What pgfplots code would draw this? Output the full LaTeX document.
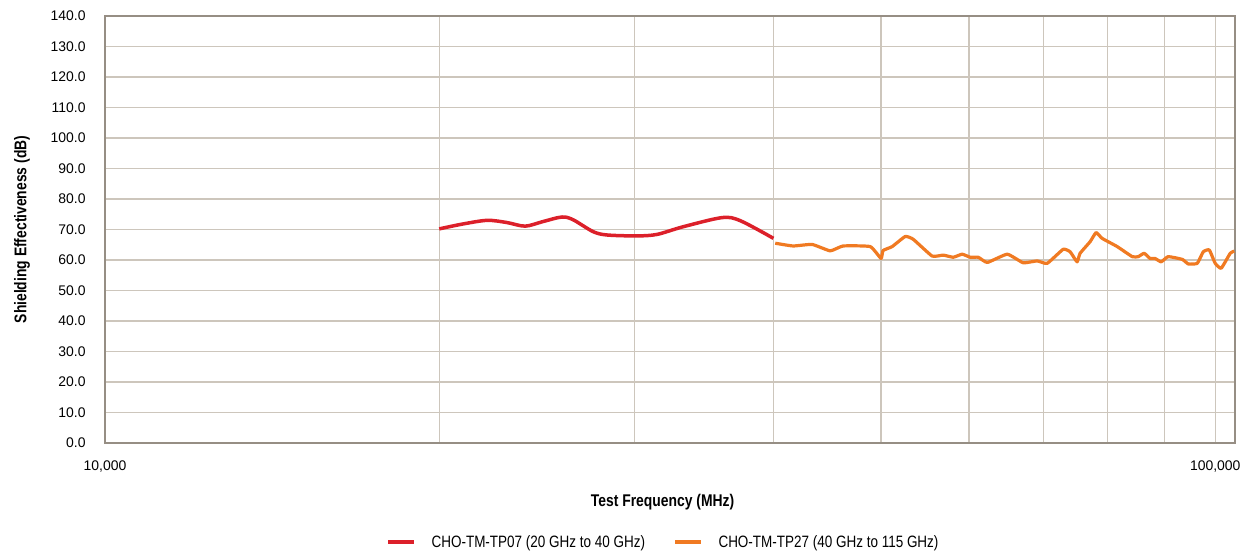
\documentclass[border=0pt]{standalone}
\usepackage{fontspec}
\setmainfont{Liberation Sans}
\newfontfamily\narrowfont[FakeStretch=0.82]{Liberation Sans}
\usepackage{pgfplots}
\pgfplotsset{compat=1.18}
\definecolor{redline}{RGB}{220,32,42}
\definecolor{orangeline}{RGB}{240,122,34}
\definecolor{gridc}{RGB}{205,198,188}
\definecolor{framec}{RGB}{150,142,132}
\begin{document}
\begin{tikzpicture}
\begin{axis}[
  scale only axis,
  width=1130bp, height=427bp,
  xmode=log,
  xmin=10000, xmax=104200,
  ymin=0, ymax=140,
  ytick={0,10,...,140},
  yticklabel={\pgfmathprintnumber[fixed,fixed zerofill,precision=1]{\tick}},
  /pgf/number format/assume math mode=true,
  xtick={10000,100000},
  xticklabels={10{,}000,100{,}000},
  minor xtick={20000,30000,40000,50000,60000,70000,80000,90000},
  xmajorgrids, xminorgrids, ymajorgrids,
  major grid style={gridc, line width=1.2bp},
  minor grid style={gridc, line width=1.2bp},
  axis line style={framec, line width=1.2bp},
  major tick length=0pt, minor tick length=0pt,
  tick label style={font=\fontsize{14}{16}\selectfont, text=black},
  yticklabel style={xshift=-16bp},
  xticklabel style={yshift=-14bp},
  xlabel={\narrowfont\bfseries Test Frequency (MHz)},
  ylabel={\narrowfont\bfseries Shielding Effectiveness (dB)},
  label style={font=\fontsize{17}{19}\selectfont},
  xlabel style={at={(axis description cs:0.4934,-0.138)}, anchor=center},
  ylabel style={at={(axis description cs:-0.0735,0.5)}, anchor=center},
  legend columns=2,
  legend style={at={(axis description cs:0.494,-0.232)}, anchor=center, draw=none,
    font=\narrowfont\fontsize{16.5}{18}\selectfont,
    /tikz/every odd column/.append style={column sep=13bp},
    /tikz/every even column/.append style={column sep=26bp}},
  legend image code/.code={\draw[#1, line width=4.5bp] (0bp,0bp) -- (26bp,0bp);},
]
\addplot[redline, line width=3.5bp, smooth, tension=0.5] coordinates {
(20000,70.2) (21000,71.8) (22090,73.0) (23000,72.3) (23900,71.1) (24800,72.6)
(25800,74.1) (26400,73.2) (27520,69.3) (28330,68.2) (30150,67.9) (31430,68.4)
(33170,70.9) (35960,73.9) (37340,72.9) (40000,67.1)
};
\addlegendentry{CHO-TM-TP07 (20 GHz to 40 GHz)}
\addplot[orangeline, line width=3.2bp, line join=round, smooth, tension=0.25] coordinates {
(40150,65.5) (41670,64.6) (43350,65.1) (45000,63.0) (46220,64.6) (48890,64.4)
(50000,60.5) (50210,63.1) (51170,64.4) (52570,67.7) (53450,66.8) (55590,61.3)
(56890,61.6) (58080,60.9) (59160,61.9) (60170,60.9) (61180,60.9) (62340,59.2)
(64960,61.9) (67140,59.1) (69130,59.7) (70580,58.9) (72950,63.5) (74020,62.7)
(75100,59.4) (75570,62.2) (77150,66.0) (78120,69.0) (79100,67.1) (81600,64.4)
(84190,61.1) (85240,61.1) (86300,62.2) (87360,60.5) (88270,60.5) (89400,59.4)
(90700,61.1) (93400,60.2) (94560,58.7) (96340,58.9) (97550,62.7) (98770,63.3)
(100000,58.9) (101250,57.3) (103160,62.2) (104020,62.9)
};
\addlegendentry{CHO-TM-TP27 (40 GHz to 115 GHz)}
\end{axis}
\pgfresetboundingbox
\path[use as bounding box] ([xshift=-105bp,yshift=-110bp]current axis.south west) rectangle ([xshift=11bp,yshift=16bp]current axis.north east);
\end{tikzpicture}
\end{document}
